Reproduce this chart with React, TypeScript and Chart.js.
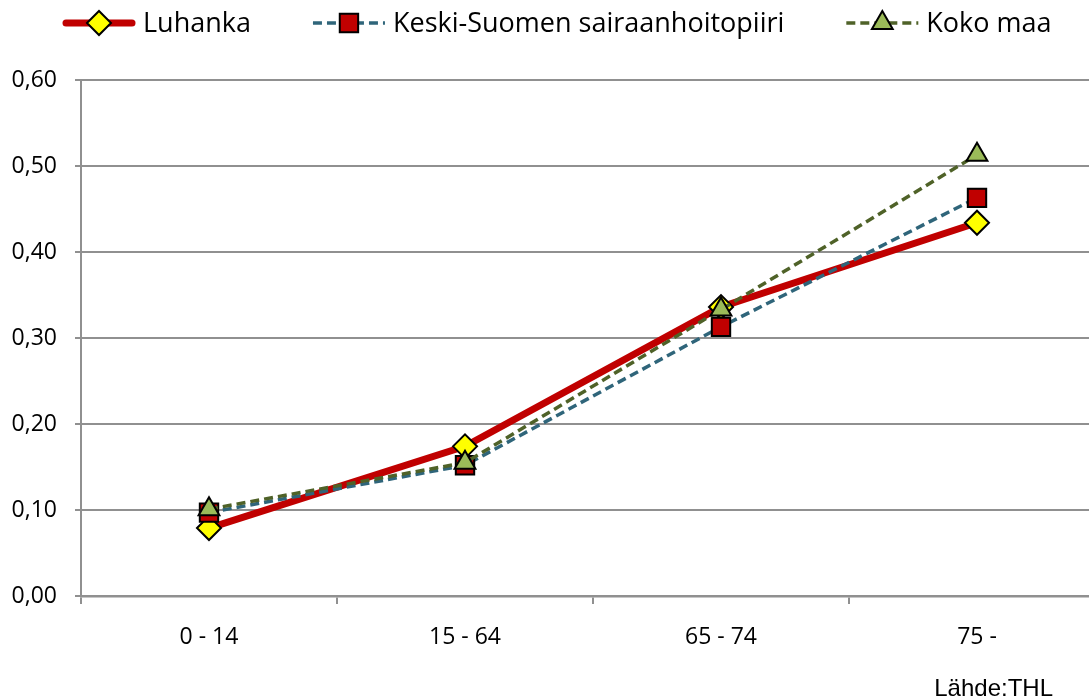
import React, { useEffect, useRef } from 'react';
import { Chart, registerables } from 'chart.js';

Chart.register(...registerables);

const categories = ['0 - 14', '15 - 64', '65 - 74', '75 -'];
const seriesNames = ['Luhanka', 'Keski-Suomen sairaanhoitopiiri', 'Koko maa'];
const luhanka = [0.079, 0.174, 0.336, 0.434];
const keskiSuomi = [0.097, 0.152, 0.313, 0.463];
const kokoMaa = [0.101, 0.155, 0.333, 0.513];
const yTicks = [0, 0.1, 0.2, 0.3, 0.4, 0.5, 0.6];
const yTickLabels = ['0,00', '0,10', '0,20', '0,30', '0,40', '0,50', '0,60'];
const sourceText = 'Lähde:THL';

const GRID = '#909090';
const FONT = '"Open Sans", "DejaVu Sans", sans-serif';

function drawMarker(
  ctx: CanvasRenderingContext2D,
  style: string,
  x: number,
  y: number,
  r: number,
  fill: string,
  stroke: string,
  bw: number
) {
  ctx.save();
  ctx.setLineDash([]);
  ctx.beginPath();
  if (style === 'rectRot') {
    ctx.moveTo(x - r, y);
    ctx.lineTo(x, y - r);
    ctx.lineTo(x + r, y);
    ctx.lineTo(x, y + r);
    ctx.closePath();
  } else if (style === 'rect') {
    const s = r * Math.SQRT1_2;
    ctx.rect(x - s, y - s, 2 * s, 2 * s);
  } else {
    const a = Math.sin((2 * Math.PI) / 3) * r;
    ctx.moveTo(x, y - r);
    ctx.lineTo(x + a, y + r * 0.5);
    ctx.lineTo(x - a, y + r * 0.5);
    ctx.closePath();
  }
  ctx.fillStyle = fill;
  ctx.fill();
  ctx.lineWidth = bw;
  ctx.strokeStyle = stroke;
  ctx.stroke();
  ctx.restore();
}

const legendPlugin = {
  id: 'customLegend',
  afterDraw(chart: any) {
    const ctx: CanvasRenderingContext2D = chart.ctx;
    ctx.save();
    ctx.font = `27px ${FONT}`;
    ctx.textBaseline = 'middle';
    ctx.textAlign = 'left';
    const y = 23;
    const boxW = 72;
    const textGap = 8;
    const itemGap = 62;
    let x = 63;
    chart.data.datasets.forEach((ds: any) => {
      ctx.save();
      ctx.beginPath();
      ctx.strokeStyle = ds.borderColor;
      ctx.lineWidth = ds.borderWidth;
      ctx.lineCap = ds.borderWidth > 4 ? 'round' : 'butt';
      ctx.setLineDash(ds.borderDash || []);
      ctx.moveTo(x + (ds.borderWidth > 4 ? 3 : 0), y);
      ctx.lineTo(x + boxW - (ds.borderWidth > 4 ? 3 : 0), y);
      ctx.stroke();
      ctx.restore();
      drawMarker(ctx, ds.pointStyle, x + boxW / 2, y, ds.pointRadius, ds.pointBackgroundColor, ds.pointBorderColor, ds.pointBorderWidth);
      ctx.fillStyle = '#000';
      ctx.fillText(ds.label, x + boxW + textGap, y + 1);
      x += boxW + textGap + ctx.measureText(ds.label).width + itemGap;
    });
    ctx.font = `24px "Liberation Sans", Arial, sans-serif`;
    ctx.textAlign = 'right';
    ctx.textBaseline = 'alphabetic';
    ctx.fillStyle = '#000';
    ctx.fillText(sourceText, 1053, 696);
    ctx.restore();
  },
};

export default function App() {
  const ref = useRef<HTMLCanvasElement>(null);
  useEffect(() => {
    if (!ref.current) return;
    const chart = new Chart(ref.current, {
      type: 'line',
      data: {
        labels: categories,
        datasets: [
          {
            label: seriesNames[0],
            data: luhanka,
            borderColor: '#C00000',
            borderWidth: 7,
            pointStyle: 'rectRot',
            pointRadius: 12,
            pointBackgroundColor: '#FFFF00',
            pointBorderColor: '#000000',
            pointBorderWidth: 2,
            tension: 0,
            order: 3,
          },
          {
            label: seriesNames[1],
            data: keskiSuomi,
            borderColor: '#2F657A',
            borderWidth: 3.5,
            borderDash: [9, 5],
            pointStyle: 'rect',
            pointRadius: 13,
            pointBackgroundColor: '#C00000',
            pointBorderColor: '#000000',
            pointBorderWidth: 2,
            tension: 0,
            order: 2,
          },
          {
            label: seriesNames[2],
            data: kokoMaa,
            borderColor: '#4F6228',
            borderWidth: 3.5,
            borderDash: [9, 5],
            pointStyle: 'triangle',
            pointRadius: 12,
            pointBackgroundColor: '#9BBB59',
            pointBorderColor: '#000000',
            pointBorderWidth: 2,
            tension: 0,
            order: 1,
          },
        ] as any,
      },
      options: {
        responsive: false,
        animation: false,
        devicePixelRatio: 1,
        layout: { padding: { left: 0, top: 80, right: 15, bottom: 0 } },
        plugins: {
          legend: { display: false },
          tooltip: { enabled: false },
        },
        scales: {
          x: {
            type: 'category',
            offset: true,
            grid: {
              offset: true,
              drawOnChartArea: false,
              drawTicks: true,
              tickLength: 8,
              color: GRID,
              lineWidth: 2,
            },
            border: { display: true, color: GRID, width: 2.5 },
            ticks: {
              color: '#000',
              font: { family: FONT, size: 23 },
              padding: 20,
              maxRotation: 0,
            },
            afterFit: (s: any) => {
              s.height = 104;
            },
          },
          y: {
            min: 0,
            max: 0.6,
            grid: { color: GRID, lineWidth: 2, tickLength: 6, drawTicks: true },
            border: { display: true, color: GRID, width: 2 },
            afterBuildTicks: (s: any) => {
              s.ticks = yTicks.map((v) => ({ value: v }));
            },
            ticks: {
              color: '#000',
              font: { family: FONT, size: 23 },
              padding: 18,
              callback: (_v: any, i: number) => yTickLabels[i],
            },
            afterFit: (s: any) => {
              s.width = 81;
            },
          },
        } as any,
      },
      plugins: [legendPlugin],
    });
    return () => chart.destroy();
  }, []);

  return (
    <div
      style={{
        position: 'fixed',
        left: 0,
        top: 0,
        width: 1089,
        height: 700,
        overflow: 'hidden',
        background: '#fff',
      }}
    >
      <canvas ref={ref} width={1120} height={700} style={{ display: 'block', width: 1120, height: 700 }} />
    </div>
  );
}
